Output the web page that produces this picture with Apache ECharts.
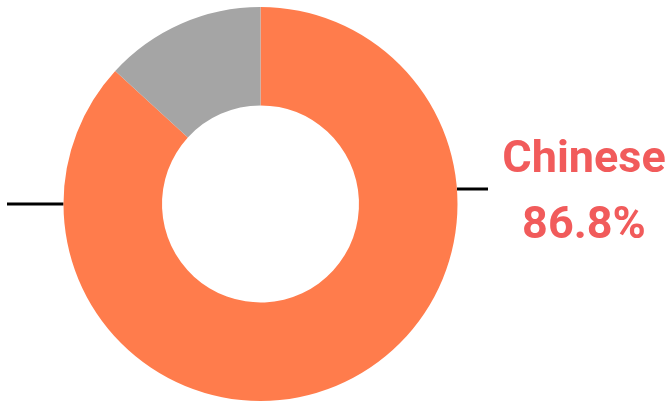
<!DOCTYPE html>
<html>
<head>
<meta charset="utf-8">
<script src="https://cdn.jsdelivr.net/npm/echarts@6/dist/echarts.min.js"></script>
<style>
  html, body { margin: 0; padding: 0; background: #ffffff; }
  #chart { width: 666px; height: 402px; }
</style>
</head>
<body>
<div id="chart"></div>
<script>
// Share of speakers by language group
const categories = ['Chinese', 'Others'];
const shares = [86.8, 13.2];
const sliceColors = ['#ff7c4c', '#a5a5a5'];
const labelColors = ['#f15b5b', '#a5a5a5'];

// Donut geometry (pixels)
const cx = 260.5, cy = 204, rOuter = 197, rInner = 98.5;

// Point on the outer edge of the ring at a given vertical position
function edgeX(y, side) {
  const dy = y - cy;
  return cx + side * Math.sqrt(rOuter * rOuter - dy * dy);
}

const chart = echarts.init(document.getElementById('chart'), null, { renderer: 'canvas' });

chart.setOption({
  backgroundColor: '#ffffff',
  animation: false,
  series: [{
    type: 'pie',
    center: [cx, cy],
    radius: [rInner, rOuter],
    startAngle: 90,
    clockwise: true,
    silent: true,
    data: categories.map((name, i) => ({
      name: name,
      value: shares[i],
      itemStyle: { color: sliceColors[i] },
      label: { color: labelColors[i] }
    })),
    label: {
      show: true,
      formatter: p => p.name + '\n' + p.value.toFixed(1) + '%',
      fontFamily: '"Liberation Sans Narrow", "Roboto", sans-serif',
      fontWeight: 'bold',
      fontSize: 45,
      lineHeight: 66,
      align: 'center'
    },
    labelLine: {
      show: true,
      lineStyle: { color: '#000000', width: 3 }
    },
    labelLayout: function (params) {
      if (params.dataIndex === 0) {
        const y = 189;
        const x0 = edgeX(y, 1);
        return {
          x: 584, y: 194,
          align: 'center', verticalAlign: 'middle',
          labelLinePoints: [[x0, y], [x0 + 15, y], [488, y]]
        };
      }
      const y = 204;
      const x0 = edgeX(y, -1);
      return {
        x: -72, y: 236,
        align: 'center', verticalAlign: 'middle',
        labelLinePoints: [[x0, y], [x0 - 28, y], [7, y]]
      };
    }
  }]
});
</script>
</body>
</html>
